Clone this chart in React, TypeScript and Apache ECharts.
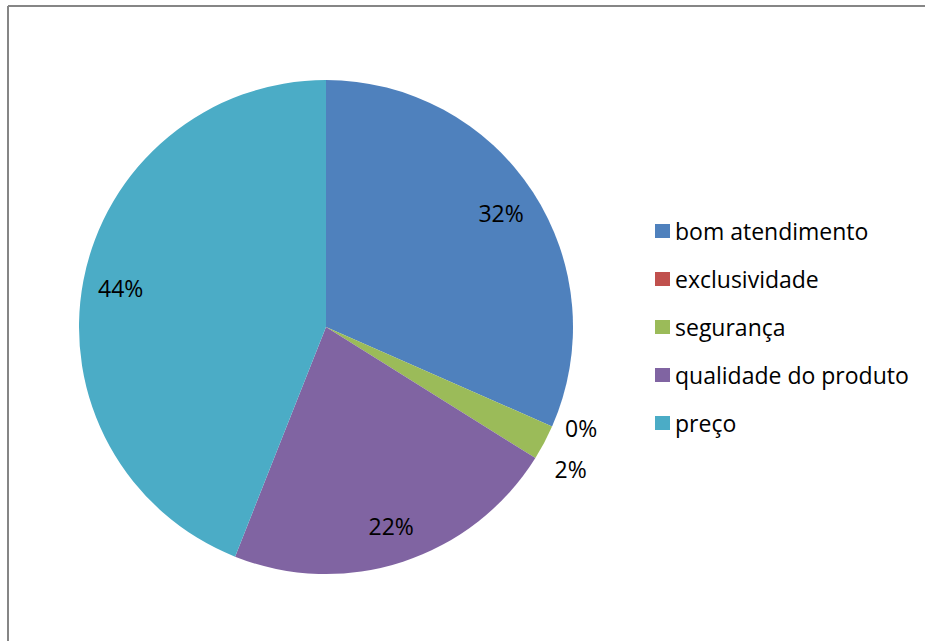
import React, { useEffect, useRef } from "react";
import * as echarts from "echarts";

const categories = ["bom atendimento", "exclusividade", "segurança", "qualidade do produto", "preço"];
const values = [31.6, 0, 2.3, 22.1, 44.0];
const colors = ["#4F81BD", "#C0504D", "#9BBB59", "#8064A2", "#4BACC6"];
const insideLabelIdx = [0, 3, 4];

const FONT = "'Open Sans', 'Noto Sans', sans-serif";

export default function App() {
  const ref = useRef<HTMLDivElement>(null);
  useEffect(() => {
    document.body.style.margin = "0";
    if (!ref.current) return;
    const chart = echarts.init(ref.current, undefined, { renderer: "svg" });
    const center = [326, 327];
    const mainData = categories.map((name, i) => ({
      name,
      value: values[i],
      itemStyle: { color: colors[i] },
      label: insideLabelIdx.includes(i)
        ? { show: false }
        : {
            show: true,
            position: "outside",
            lineHeight: i === 2 ? 54 : 24,
          },
      labelLine: { show: false, length: i === 1 ? 4 : 6, length2: 0 },
    }));
    const labelData = categories.map((name, i) => ({
      name,
      value: values[i],
      itemStyle: { color: "rgba(0,0,0,0)" },
      label: { show: insideLabelIdx.includes(i) },
    }));
    chart.setOption({
      animation: false,
      backgroundColor: "#ffffff",
      graphic: [
        { type: "line", shape: { x1: 8, y1: 6, x2: 8, y2: 641 }, style: { stroke: "#868686", lineWidth: 2 } },
        { type: "line", shape: { x1: 8, y1: 6, x2: 925, y2: 6 }, style: { stroke: "#868686", lineWidth: 2 } },
      ],
      legend: {
        orient: "vertical",
        left: 655,
        top: 219,
        padding: 0,
        itemWidth: 15,
        itemHeight: 14,
        itemGap: 24,
        icon: "rect",
        data: categories,
        textStyle: { fontSize: 23, lineHeight: 24, color: "#000", fontFamily: FONT },
      },
      series: [
        {
          type: "pie",
          center,
          radius: [0, 247],
          startAngle: 90,
          clockwise: true,
          percentPrecision: 0,
          avoidLabelOverlap: true,
          silent: true,
          label: {
            formatter: "{d}%",
            fontSize: 23,
            color: "#000",
            fontFamily: FONT,
          },
          data: mainData,
        },
        {
          type: "pie",
          center,
          radius: [0, 412],
          startAngle: 90,
          clockwise: true,
          percentPrecision: 0,
          silent: true,
          label: {
            position: "inside",
            formatter: "{d}%",
            fontSize: 23,
            color: "#000",
            fontFamily: FONT,
          },
          labelLine: { show: false },
          data: labelData,
        },
      ],
    });
    return () => chart.dispose();
  }, []);
  return <div ref={ref} style={{ width: 925, height: 641 }} />;
}
